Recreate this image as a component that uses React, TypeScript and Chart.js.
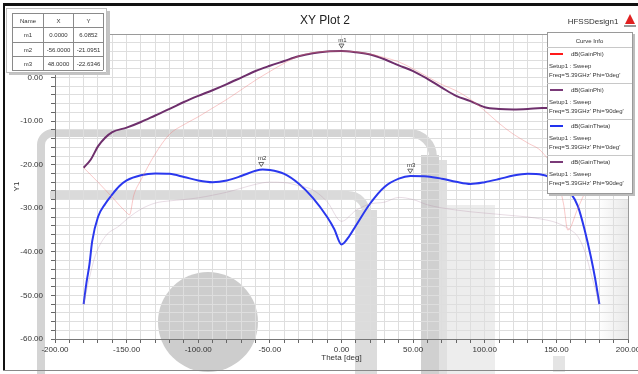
import React, { useEffect, useRef } from "react";
import { Chart, registerables } from "chart.js";

Chart.register(...registerables);

// ---------- data ----------
const X_LABELED_TICKS = [-200, -150, -100, -50, 0, 50, 100, 150, 200];
const Y_LABELED_TICKS = [-60, -50, -40, -30, -20, -10, 0, 10];

// dB(GainPhi), Phi='0deg'
const thetaGainPhi0 = [-180, -170, -160, -150, -148, -145, -140, -130, -120, -110, -100, -90, -80, -70, -60, -50, -40, -30, -20, -10, 0, 10, 20, 30, 40, 50, 60, 70, 80, 90, 100, 110, 120, 130, 140, 150, 155, 158, 165, 172, 180];
const gainPhi0 = [-20.7, -24, -27.5, -31, -31.5, -27, -23.5, -17.5, -13, -10.8, -9.0, -7.0, -5.0, -2.8, -0.6, 1.4, 3.3, 4.9, 5.7, 6.0, 6.09, 5.9, 5.4, 4.6, 3.6, 2.0, 0.2, -1.6, -3.0, -5.0, -7.6, -10.5, -13, -15, -17.1, -22.5, -29, -35, -30, -25, -21];

// dB(GainPhi), Phi='90deg'
const thetaGainPhi90 = [-180, -175, -170, -165, -160, -150, -140, -130, -120, -110, -100, -90, -80, -70, -60, -50, -40, -30, -20, -10, 0, 10, 20, 30, 40, 50, 60, 70, 80, 90, 100, 110, 120, 130, 140, 150, 160, 170, 180];
const gainPhi90 = [-20.7, -18.8, -15.8, -13.8, -12.5, -11.5, -10.2, -8.7, -7.2, -5.6, -4.2, -2.9, -1.5, 0.0, 1.5, 2.7, 3.8, 4.9, 5.6, 6.0, 6.09, 5.8, 5.3, 4.2, 2.8, 1.5, -0.3, -2.3, -4.2, -5.4, -6.8, -7.2, -7.3, -7.2, -7.0, -7.0, -7.2, -7.8, -8.5];

// dB(GainTheta), Phi='0deg'
const thetaGainTheta0 = [-180, -178, -176, -174, -170, -165, -160, -155, -150, -140, -130, -120, -110, -100, -90, -80, -70, -60, -55, -50, -40, -30, -20, -10, -5, 0, 5, 10, 20, 30, 40, 48, 60, 70, 80, 90, 100, 110, 120, 130, 140, 150, 160, 165, 170, 174, 177, 180];
const gainTheta0 = [-52, -47, -43, -37.5, -32, -29, -26.8, -24.9, -23.6, -22.4, -22.0, -22.1, -22.8, -23.6, -24.0, -23.6, -22.6, -21.4, -21.1, -21.2, -22.1, -24.3, -27.6, -32, -34.8, -38.3, -36.6, -34.0, -28.9, -25.1, -23.2, -22.6, -22.7, -23.2, -23.9, -24.4, -24.0, -23.3, -22.5, -22.1, -22.3, -23.7, -26.5, -29.5, -35.3, -41, -46, -52];

// dB(GainTheta), Phi='90deg'
const thetaGainTheta90 = [-180, -176, -172, -165, -155, -148, -140, -130, -120, -110, -100, -90, -80, -70, -60, -50, -40, -30, -20, -10, 0, 10, 20, 30, 40, 50, 60, 70, 80, 90, 100, 110, 120, 130, 140, 150, 160, 165, 170, 175, 180];
const gainTheta90 = [-52, -46, -41, -36.5, -34, -32, -30.2, -28.8, -28.3, -28.0, -27.6, -27.0, -26.3, -25.4, -24.5, -24.0, -24.1, -24.8, -25.8, -28.5, -33, -30.5, -29.0, -28.6, -27.5, -28.0, -29.2, -29.9, -30.4, -30.8, -31.1, -31.4, -31.7, -32.0, -32.5, -33.3, -35.0, -36.5, -40, -46, -52];

// markers
const MARKER_NAMES = ["m1", "m2", "m3"];
const MARKER_X = [0, -56, 48];
const MARKER_Y = [6.0852, -21.0951, -22.6346];

// legend
const LEGEND_NAMES = ["dB(GainPhi)", "dB(GainPhi)", "dB(GainTheta)", "dB(GainTheta)"];
const LEGEND_PHI = ["0deg", "90deg", "0deg", "90deg"];
const LEGEND_COLORS = ["#ff1a1a", "#7a3a78", "#2233ee", "#7a3a78"];

const FONT = "'Liberation Sans', Arial, sans-serif";

function pts(xs: number[], ys: number[]) {
  return xs.map((x, i) => ({ x, y: ys[i] }));
}

const decorPlugin = {
  id: "decor",
  beforeDraw(chart: any) {
    const ctx = chart.ctx;
    ctx.save();
    ctx.fillStyle = "#ffffff";
    ctx.fillRect(0, 0, chart.width, chart.height);
    // faint grey overlay artifacts of the source picture
    ctx.lineCap = "butt";
    ctx.strokeStyle = "#d4d4d4";
    ctx.lineWidth = 8;
    ctx.beginPath();
    ctx.moveTo(41, 374);
    ctx.lineTo(41, 146);
    ctx.arcTo(41, 133, 54, 133, 12);
    ctx.lineTo(405, 133);
    ctx.arcTo(433, 133, 433, 160, 24);
    ctx.lineTo(433, 374);
    ctx.stroke();
    ctx.fillStyle = "#d0d0d0";
    ctx.fillRect(421, 155, 18, 219);
    ctx.fillStyle = "#e0e0e0";
    ctx.fillRect(439, 160, 8, 214);
    ctx.fillStyle = "#ededed";
    ctx.fillRect(447, 205, 48, 169);

    ctx.strokeStyle = "#dadada";
    ctx.lineWidth = 8;
    ctx.beginPath();
    ctx.moveTo(50, 195);
    ctx.lineTo(345, 195);
    ctx.arcTo(366, 195, 366, 216, 18);
    ctx.lineTo(366, 374);
    ctx.stroke();
    ctx.fillStyle = "#dcdcdc";
    ctx.fillRect(355, 210, 22, 164);

    ctx.fillStyle = "#cdcdcd";
    ctx.beginPath();
    ctx.arc(208, 322, 50, 0, Math.PI * 2);
    ctx.fill();

    const g = ctx.createLinearGradient(598, 0, 628, 0);
    g.addColorStop(0, "#ffffff");
    g.addColorStop(1, "#e8e8e8");
    ctx.fillStyle = g;
    ctx.fillRect(598, 200, 30, 140);
    ctx.fillStyle = "#e4e4e4";
    ctx.fillRect(553, 356, 12, 16);
    ctx.restore();
  },
  afterDraw(chart: any) {
    const ctx = chart.ctx;
    const a = chart.chartArea;
    const xs = chart.scales.x;
    const ys = chart.scales.y;
    ctx.save();

    // plot frame (top/right)
    ctx.strokeStyle = "#9a9a9a";
    ctx.lineWidth = 1;
    ctx.beginPath();
    ctx.moveTo(a.left, a.top + 0.5);
    ctx.lineTo(a.right + 0.5, a.top + 0.5);
    ctx.lineTo(a.right + 0.5, a.bottom);
    ctx.stroke();

    // titles
    ctx.fillStyle = "#222";
    ctx.textAlign = "center";
    ctx.textBaseline = "middle";
    ctx.font = `12px ${FONT}`;
    ctx.fillText("XY Plot 2", 325, 21);
    ctx.font = `8px ${FONT}`;
    ctx.fillStyle = "#333";
    ctx.fillText("HFSSDesign1", 593, 22);
    ctx.fillText("Theta [deg]", (a.left + a.right) / 2, 358);
    ctx.save();
    ctx.translate(17, (a.top + a.bottom) / 2);
    ctx.rotate(-Math.PI / 2);
    ctx.fillText("Y1", 0, 0);
    ctx.restore();

    // logo
    ctx.fillStyle = "#e02020";
    ctx.beginPath();
    ctx.moveTo(630, 14);
    ctx.lineTo(635, 24);
    ctx.lineTo(625, 24);
    ctx.closePath();
    ctx.fill();
    ctx.fillStyle = "#999";
    ctx.fillRect(624, 25, 12, 2);

    // markers on curves
    ctx.font = `6px ${FONT}`;
    for (let i = 0; i < MARKER_NAMES.length; i++) {
      const px = xs.getPixelForValue(MARKER_X[i]);
      const py = ys.getPixelForValue(MARKER_Y[i]);
      ctx.strokeStyle = "#444";
      ctx.lineWidth = 0.8;
      ctx.beginPath();
      ctx.moveTo(px - 2.5, py - 7);
      ctx.lineTo(px + 2.5, py - 7);
      ctx.lineTo(px, py - 3);
      ctx.closePath();
      ctx.stroke();
      ctx.fillStyle = "#333";
      ctx.textAlign = "center";
      ctx.fillText(MARKER_NAMES[i], px + 1, py - 11);
    }

    // marker table
    ctx.fillStyle = "#c4c4c4";
    ctx.fillRect(107, 11, 3, 64);
    ctx.fillRect(9, 73, 101, 2);
    ctx.fillStyle = "#fff";
    ctx.fillRect(6, 8, 101, 65);
    ctx.strokeStyle = "#b0b0b0";
    ctx.strokeRect(6.5, 8.5, 100, 64);
    const cols = [12, 43, 73, 103];
    const rows = [13, 27, 42, 56, 70];
    ctx.strokeStyle = "#8a8a8a";
    ctx.lineWidth = 1;
    ctx.beginPath();
    for (const c of cols) {
      ctx.moveTo(c + 0.5, rows[0]);
      ctx.lineTo(c + 0.5, rows[rows.length - 1]);
    }
    for (const r of rows) {
      ctx.moveTo(cols[0], r + 0.5);
      ctx.lineTo(cols[cols.length - 1], r + 0.5);
    }
    ctx.stroke();
    ctx.fillStyle = "#333";
    ctx.font = `6px ${FONT}`;
    const header = ["Name", "X", "Y"];
    const cell = (ci: number, ri: number, t: string) =>
      ctx.fillText(t, (cols[ci] + cols[ci + 1]) / 2 + 0.5, (rows[ri] + rows[ri + 1]) / 2 + 1);
    header.forEach((h, ci) => cell(ci, 0, h));
    for (let i = 0; i < MARKER_NAMES.length; i++) {
      cell(0, i + 1, MARKER_NAMES[i]);
      cell(1, i + 1, MARKER_X[i].toFixed(4));
      cell(2, i + 1, MARKER_Y[i].toFixed(4));
    }

    // legend (Curve Info)
    const lx = 547, ly = 32, lw = 85, lh = 161;
    ctx.fillStyle = "#bdbdbd";
    ctx.fillRect(lx + 2, ly + 2, lw + 1, lh + 1);
    ctx.fillStyle = "#fff";
    ctx.fillRect(lx, ly, lw, lh);
    ctx.strokeStyle = "#9a9a9a";
    ctx.strokeRect(lx + 0.5, ly + 0.5, lw, lh);
    ctx.fillStyle = "#333";
    ctx.textAlign = "center";
    ctx.fillText("Curve Info", lx + lw / 2, 41);
    ctx.strokeStyle = "#c8c8c8";
    ctx.beginPath();
    ctx.moveTo(lx, 47.5);
    ctx.lineTo(lx + lw, 47.5);
    ctx.stroke();
    for (let i = 0; i < LEGEND_NAMES.length; i++) {
      const y0 = 47 + i * 36;
      ctx.strokeStyle = LEGEND_COLORS[i];
      ctx.lineWidth = 2;
      ctx.beginPath();
      ctx.moveTo(550, y0 + 7);
      ctx.lineTo(563, y0 + 7);
      ctx.stroke();
      ctx.fillStyle = "#333";
      ctx.textAlign = "left";
      ctx.fillText(LEGEND_NAMES[i], 571, y0 + 7);
      ctx.fillText("Setup1 : Sweep", 549, y0 + 19);
      ctx.fillText(`Freq='5.39GHz' Phi='${LEGEND_PHI[i]}'`, 549, y0 + 28.5);
      if (i < LEGEND_NAMES.length - 1) {
        ctx.strokeStyle = "#c8c8c8";
        ctx.lineWidth = 1;
        ctx.beginPath();
        ctx.moveTo(lx, y0 + 36.5);
        ctx.lineTo(lx + lw, y0 + 36.5);
        ctx.stroke();
      }
    }

    // outer frame
    ctx.fillStyle = "#111";
    ctx.fillRect(3, 3, 635, 3);
    ctx.fillRect(3, 3, 2, 368);
    ctx.fillStyle = "#888";
    ctx.fillRect(3, 370, 635, 1);
    ctx.restore();
  },
};

export default function App() {
  const ref = useRef<HTMLCanvasElement>(null);
  useEffect(() => {
    const canvas = ref.current;
    if (!canvas) return;
    const chart = new Chart(canvas, {
      type: "line",
      data: {
        datasets: [
          {
            label: "dB(GainPhi) Phi=0deg",
            data: pts(thetaGainPhi0, gainPhi0),
            borderColor: "rgba(240,120,120,0.4)",
            borderWidth: 1,
            pointRadius: 0,
            cubicInterpolationMode: "monotone",
          },
          {
            label: "dB(GainTheta) Phi=90deg",
            data: pts(thetaGainTheta90, gainTheta90),
            borderColor: "rgba(180,140,165,0.3)",
            borderWidth: 1,
            pointRadius: 0,
            cubicInterpolationMode: "monotone",
          },
          {
            label: "dB(GainPhi) Phi=90deg",
            data: pts(thetaGainPhi90, gainPhi90),
            borderColor: "#6e2f6c",
            borderWidth: 2,
            pointRadius: 0,
            cubicInterpolationMode: "monotone",
          },
          {
            label: "dB(GainTheta) Phi=0deg",
            data: pts(thetaGainTheta0, gainTheta0),
            borderColor: "#2a38ee",
            borderWidth: 2,
            pointRadius: 0,
            cubicInterpolationMode: "monotone",
          },
        ],
      },
      options: {
        responsive: false,
        animation: false,
        parsing: false as any,
        layout: { padding: { left: 8, right: 10, top: 34, bottom: 0 } },
        plugins: { legend: { display: false }, title: { display: false }, tooltip: { enabled: false } },
        scales: {
          x: {
            type: "linear",
            min: -200,
            max: 200,
            afterFit(s: any) {
              s.height = 35;
              s.paddingLeft = 0;
              s.paddingRight = 0;
            },
            ticks: {
              stepSize: 10,
              autoSkip: false,
              maxRotation: 0,
              minRotation: 0,
              padding: 2,
              color: "#333",
              font: { family: FONT, size: 8 },
              callback: (v: any) => (X_LABELED_TICKS.includes(Number(v)) ? Number(v).toFixed(2) : ""),
            },
            grid: { color: "#dedede", lineWidth: 1, tickLength: 4, tickColor: "#666", drawTicks: true },
            border: { color: "#777", width: 1 },
          },
          y: {
            type: "linear",
            min: -60,
            max: 10,
            afterFit(s: any) {
              s.width = 47;
            },
            ticks: {
              stepSize: 2,
              autoSkip: false,
              padding: 8,
              color: "#333",
              font: { family: FONT, size: 8 },
              callback: (v: any) => (Y_LABELED_TICKS.includes(Number(v)) ? Number(v).toFixed(2) : ""),
            },
            grid: { color: "#dedede", lineWidth: 1, tickLength: 4, tickColor: "#666", drawTicks: true },
            border: { color: "#777", width: 1 },
          },
        },
      },
      plugins: [decorPlugin],
    } as any);
    return () => chart.destroy();
  }, []);
  return (
    <div style={{ position: "fixed", left: 0, top: 0, width: 638, height: 374, background: "#fff" }}>
      <canvas ref={ref} width={638} height={374} style={{ display: "block" }} />
    </div>
  );
}
